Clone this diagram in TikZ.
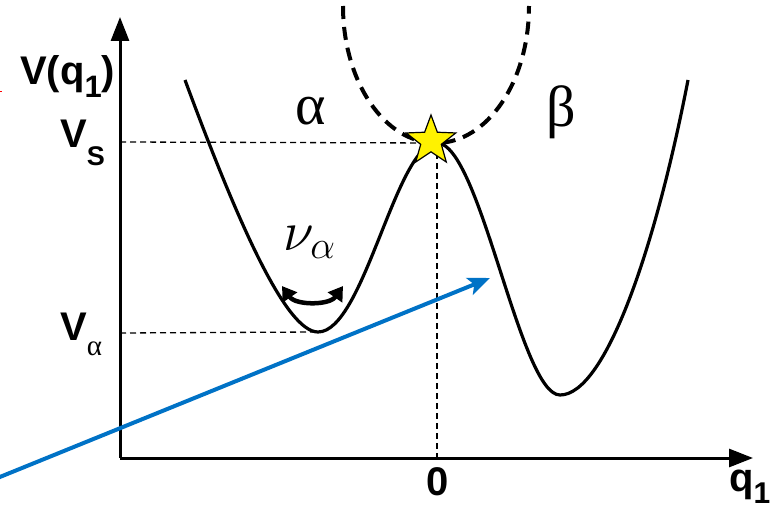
\documentclass[tikz,border=0pt]{standalone}
\usepackage{fix-cm}
\usepackage{fontspec}
\setmainfont{Liberation Sans}
\newfontfamily\grk{Liberation Serif}
\usetikzlibrary{positioning,arrows.meta,shapes.geometric}
\definecolor{azul}{RGB}{0,114,198}
\newcommand{\indice}[3]{\raisebox{-#1}{\fontsize{#2}{#2}\selectfont #3}}

\begin{document}
\begin{tikzpicture}[x=1pt, y=-1pt,
  eixo/.style={line width=3pt, -{Triangle[length=24pt,width=18pt]}},
  curva/.style={line width=3.2pt, line join=round},
  guia/.style={line width=1.3pt, dash pattern=on 6pt off 4pt},
  tracejado/.style={line width=4pt, dash pattern=on 13pt off 8pt},
  rotulo/.style={inner sep=0, font=\fontsize{40}{40}\selectfont\bfseries},
  grego/.style={inner sep=0, font=\fontsize{58}{58}\selectfont\grk},
  estrela/.style={star, star points=5, star point ratio=2.4, draw, fill=yellow, line width=1.2pt, minimum size=52pt, inner sep=0},
  vibra/.style={line width=4.5pt, {Triangle[length=14pt,width=17pt]}-{Triangle[length=14pt,width=17pt]}},
  seta/.style={azul, line width=4pt, -{Stealth[length=22pt,width=18pt,inset=5pt]}}
]
\useasboundingbox (0,0) rectangle (781,508);
\coordinate (O) at (120,458);
\coordinate (ytopo) at (120,17);
\coordinate (xfim) at (753,458);
\coordinate (vsaxis) at (120,142);
\coordinate (vaaxis) at (120,333);
\coordinate (inicio) at (185,80);
\coordinate (minA) at (318,332);
\coordinate (topo) at (437,143);
\coordinate (minB) at (560,395);
\coordinate (fim) at (688,80);
\coordinate (zero) at (437,458);
\coordinate (nu1) at (282,286);
\coordinate (nu2) at (343,286);
\coordinate (b0) at (-10,481);
\coordinate (b1) at (490,278);

\draw[guia] (vsaxis) -- (topo);
\draw[guia] (vaaxis) -- (minA);
\draw[guia] (topo) -- (zero);
\draw[tracejado] (343,6) arc[start angle=180, end angle=0, x radius=93, y radius=137];
\draw[curva] (inicio) .. controls (235,215) and (285,332) .. (minA)
  .. controls (364,332) and (396,143) .. (topo)
  .. controls (480,143) and (520,395) .. (minB)
  .. controls (605,395) and (655,250) .. (fim);
\draw[eixo] (O) -- (ytopo);
\draw[eixo] (O) -- (xfim);
\node[estrela] (ts) at (431,141) {};

\node[rotulo, anchor=base west] (vq) at (20,85) {V(q\indice{13pt}{31}{1})};
\node[rotulo, anchor=base west] (vs) at (60,147) {V\indice{18pt}{27}{S}};
\node[rotulo, anchor=base west] (va) at (60,340) {V\indice{15pt}{29}{\grk\mdseries α}};
\node[rotulo, anchor=base] (z) at (438,495) {0};
\node[rotulo, anchor=base west] (q) at (729,491) {q\indice{12pt}{30}{1}};
\node[grego] (alfa) at (311,111) {α};
\node[grego] (beta) at (561,112) {β};
\node[inner sep=0, anchor=base west, font=\fontsize{56}{56}\selectfont] (nu) at (283,250) {$\nu_\alpha$};

\draw[vibra] (nu1) to[bend right=55] (nu2);
\draw[seta] (b0) -- (b1);
\draw[red, line width=0.8pt] (0,91) -- (2,91);
\end{tikzpicture}
\end{document}
